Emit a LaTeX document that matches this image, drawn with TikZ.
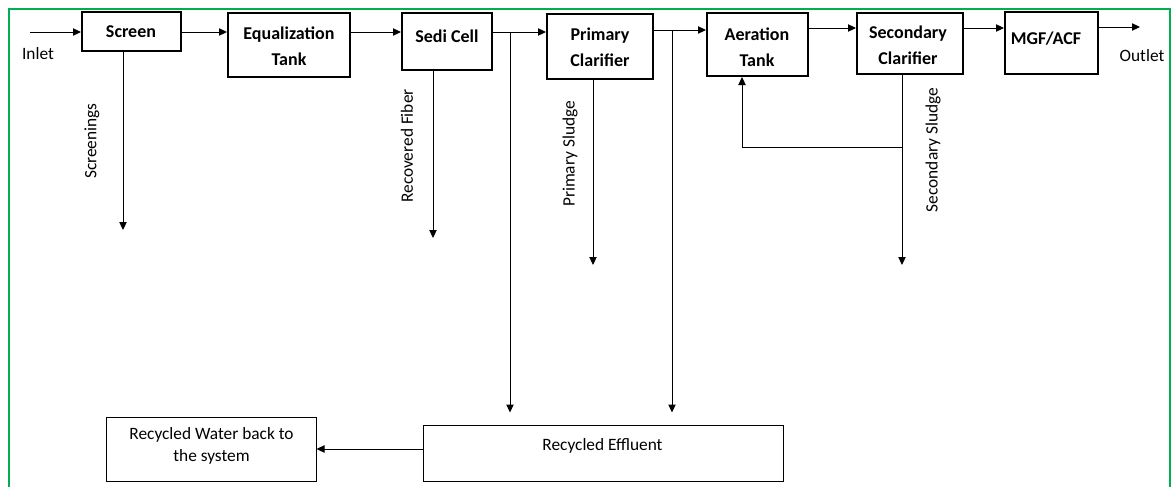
\documentclass[tikz,border=0pt]{standalone}
\usepackage{fontspec}
\setmainfont{Carlito}
\usetikzlibrary{arrows.meta,fit}
\definecolor{framegreen}{RGB}{0,176,80}
\tikzset{
  pbox/.style={draw=black, line width=1.5pt, inner sep=0pt},
  rbox/.style={draw=black, line width=0.75pt, inner sep=0pt},
  btext/.style={font=\fontsize{13.5}{19.5}\selectfont\bfseries, align=center, inner sep=0pt},
  rtext/.style={font=\fontsize{13}{16.5}\selectfont, align=center, inner sep=0pt},
  flow/.style={line width=0.75pt, -{Triangle[length=6pt,width=5.5pt]}},
  plain/.style={line width=0.75pt},
}
\begin{document}
\begin{tikzpicture}[x=0.75pt,y=-0.75pt]
\useasboundingbox (0,0) rectangle (1172,486);
\begin{scope}
\clip (0,0) rectangle (1172,486);
\draw[framegreen, line width=1.5pt] (8.5,8.5) rectangle (1170,520);
\end{scope}

% process boxes
\node[pbox, fit={(82,12) (181,51)}] (screen) {};
\node[pbox, fit={(228,13) (350,77)}] (eq) {};
\node[pbox, fit={(402,13) (492,70)}] (sedi) {};
\node[pbox, fit={(547,14) (653,79)}] (prim) {};
\node[pbox, fit={(707,13) (808,76)}] (aer) {};
\node[pbox, fit={(857,13) (963,74)}] (sec) {};
\node[pbox, fit={(1005,12) (1098,74)}] (mgf) {};
\node[rbox, fit={(106,417) (316,481)}] (water) {};
\node[rbox, fit={(423,425) (783,481)}] (rec) {};

% box texts
\node[btext] (screenT) at (131,32) {Screen};
\node[btext] (eqT) at (289,46.5) {Equalization\\Tank};
\node[btext] (sediT) at (447,36) {Sedi Cell};
\node[btext] (primT) at (600,47.5) {Primary\\Clarifier};
\node[btext] (aerT) at (757,47) {Aeration\\Tank};
\node[btext] (secT) at (908,45.5) {Secondary\\Clarifier};
\node[btext] (mgfT) at (1046,39) {MGF/ACF};
\node[rtext] (waterT) at (211.5,446) {Recycled Water back to\\the system};
\node[rtext] (recT) at (602.5,446) {Recycled Effluent};

% side labels
\node[rtext] (inletT) at (38,54) {Inlet};
\node[rtext] (outletT) at (1142,56) {Outlet};
\node[rtext, rotate=90] (scrL) at (92,141) {Screenings};
\node[rtext, rotate=90] (fibL) at (407,146) {Recovered Fiber};
\node[rtext, rotate=90] (psL) at (570,154) {Primary Sludge};
\node[rtext, rotate=90] (ssL) at (933,150) {Secondary Sludge};

% free-end coordinates
\coordinate (inlet) at (30,32);
\coordinate (outlet) at (1140,27);
\coordinate (scrEnd) at (123,230);
\coordinate (fibEnd) at (433,238);
\coordinate (psEnd) at (593,265);
\coordinate (ssEnd) at (902,265);
\coordinate (bp1) at (510,32);
\coordinate (bp2) at (672,30);
\coordinate (ret) at (902,147);

% main flow
\draw[flow] (inlet) -- (inlet -| screen.west);
\draw[flow] (inlet -| screen.east) -- (inlet -| eq.west);
\draw[flow] (inlet -| eq.east) -- (inlet -| sedi.west);
\draw[flow] (inlet -| sedi.east) -- (inlet -| prim.west);
\draw[flow] (bp2 -| prim.east) -- (bp2 -| aer.west);
\draw[flow] (aer.east |- 0,28) -- (sec.west |- 0,28);
\draw[flow] (sec.east |- 0,28) -- (mgf.west |- 0,28);
\draw[flow] (mgf.east |- outlet) -- (outlet);

% side streams
\draw[flow] (scrEnd |- screen.south) -- (scrEnd);
\draw[flow] (fibEnd |- sedi.south) -- (fibEnd);
\draw[flow] (psEnd |- prim.south) -- (psEnd);
\draw[flow] (ssEnd |- sec.south) -- (ssEnd);
\draw[flow] (ret) -- (ret -| 742,0) -- (aer.south -| 742,0);

% bypasses to recycled effluent
\draw[flow] (bp1) -- ([yshift=9pt]rec.north -| bp1);
\draw[flow] (bp2) -- ([yshift=9pt]rec.north -| bp2);
\draw[flow] (water.east -| rec.west) -- (water.east);
\end{tikzpicture}
\end{document}
